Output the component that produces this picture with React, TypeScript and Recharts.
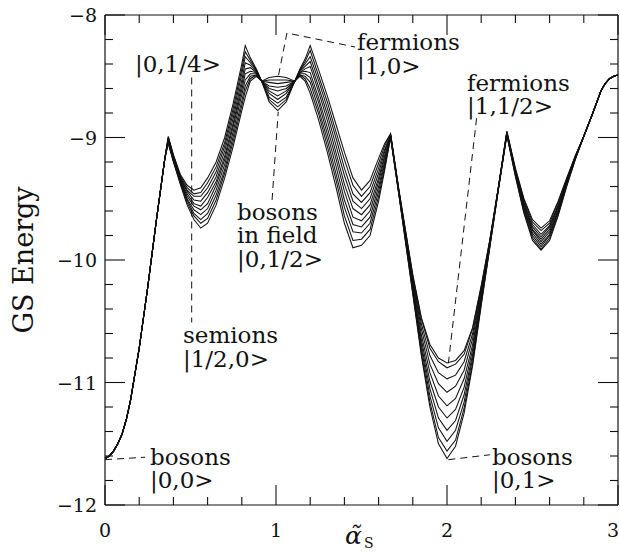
import React from 'react';
import { LineChart, Line, XAxis, YAxis, ReferenceDot } from 'recharts';

// alpha_S sampling grid
const alphaGrid = [0, 0.025, 0.05, 0.075, 0.1, 0.125, 0.15, 0.2, 0.25, 0.3, 0.35, 0.37, 0.4, 0.44, 0.48, 0.52, 0.56, 0.6, 0.65, 0.7, 0.75, 0.8, 0.82, 0.85, 0.885, 0.916, 0.96, 1.01, 1.06, 1.11, 1.14, 1.17, 1.2, 1.25, 1.3, 1.35, 1.4, 1.45, 1.5, 1.55, 1.6, 1.635, 1.67, 1.72, 1.8, 1.85, 1.9, 1.95, 2.0, 2.05, 2.1, 2.15, 2.2, 2.25, 2.3, 2.35, 2.4, 2.45, 2.5, 2.55, 2.6, 2.65, 2.7, 2.75, 2.8, 2.85, 2.9, 2.925, 2.95, 2.975, 3.0];

// part common to every curve (alpha 0 .. 0.35)
const sharedRise = [-11.62, -11.6, -11.56, -11.5, -11.42, -11.3, -11.14, -10.72, -10.22, -9.68, -9.17];
// part common to every curve (alpha 2.8 .. 3.0)
const sharedTail = [-8.99, -8.81, -8.62, -8.56, -8.52, -8.5, -8.49];

// individual curves (alpha 0.37 .. 2.75)
const curve0 = [-8.99, -9.14, -9.30, -9.39, -9.43, -9.41, -9.33, -9.20, -9.00, -8.72, -8.40, -8.25, -8.35, -8.44, -8.54, -8.51, -8.50, -8.51, -8.54, -8.44, -8.36, -8.25, -8.45, -8.66, -8.89, -9.12, -9.33, -9.43, -9.35, -9.17, -9.05, -8.97, -9.44, -10.12, -10.47, -10.69, -10.80, -10.84, -10.82, -10.74, -10.55, -10.21, -9.84, -9.41, -8.95, -9.25, -9.50, -9.67, -9.74, -9.68, -9.52, -9.33, -9.15];
const curve1 = [-9.00, -9.15, -9.31, -9.41, -9.46, -9.45, -9.37, -9.24, -9.04, -8.76, -8.44, -8.30, -8.37, -8.45, -8.54, -8.53, -8.53, -8.53, -8.54, -8.45, -8.38, -8.29, -8.50, -8.71, -8.95, -9.18, -9.39, -9.48, -9.40, -9.21, -9.07, -8.97, -9.44, -10.13, -10.48, -10.72, -10.83, -10.88, -10.85, -10.77, -10.56, -10.22, -9.84, -9.41, -8.95, -9.26, -9.51, -9.69, -9.76, -9.70, -9.53, -9.34, -9.15];
const curve2 = [-9.00, -9.15, -9.32, -9.43, -9.48, -9.48, -9.41, -9.28, -9.07, -8.80, -8.48, -8.34, -8.39, -8.45, -8.54, -8.55, -8.56, -8.55, -8.54, -8.45, -8.40, -8.34, -8.54, -8.76, -9.00, -9.25, -9.46, -9.53, -9.45, -9.25, -9.10, -8.98, -9.45, -10.15, -10.52, -10.78, -10.92, -10.97, -10.94, -10.83, -10.60, -10.24, -9.85, -9.41, -8.96, -9.27, -9.53, -9.71, -9.79, -9.72, -9.55, -9.35, -9.16];
const curve3 = [-9.01, -9.16, -9.33, -9.44, -9.51, -9.52, -9.45, -9.32, -9.11, -8.84, -8.53, -8.39, -8.41, -8.46, -8.54, -8.58, -8.59, -8.58, -8.54, -8.46, -8.42, -8.38, -8.59, -8.81, -9.06, -9.31, -9.52, -9.58, -9.50, -9.29, -9.12, -8.98, -9.45, -10.17, -10.56, -10.85, -11.01, -11.08, -11.03, -10.90, -10.64, -10.26, -9.86, -9.41, -8.96, -9.27, -9.54, -9.73, -9.81, -9.73, -9.56, -9.35, -9.16];
const curve4 = [-9.02, -9.17, -9.34, -9.46, -9.54, -9.56, -9.49, -9.36, -9.15, -8.88, -8.57, -8.44, -8.43, -8.47, -8.54, -8.60, -8.62, -8.60, -8.54, -8.47, -8.44, -8.42, -8.63, -8.86, -9.12, -9.38, -9.58, -9.63, -9.55, -9.33, -9.15, -8.98, -9.46, -10.19, -10.61, -10.92, -11.11, -11.19, -11.13, -10.97, -10.69, -10.28, -9.87, -9.42, -8.96, -9.28, -9.55, -9.75, -9.83, -9.75, -9.57, -9.36, -9.16];
const curve5 = [-9.02, -9.17, -9.34, -9.48, -9.56, -9.59, -9.54, -9.39, -9.18, -8.91, -8.61, -8.48, -8.46, -8.47, -8.54, -8.62, -8.66, -8.62, -8.54, -8.47, -8.46, -8.47, -8.68, -8.92, -9.17, -9.44, -9.65, -9.68, -9.60, -9.36, -9.17, -8.99, -9.46, -10.21, -10.65, -10.99, -11.20, -11.29, -11.22, -11.04, -10.73, -10.30, -9.87, -9.42, -8.97, -9.29, -9.57, -9.76, -9.85, -9.77, -9.59, -9.37, -9.17];
const curve6 = [-9.03, -9.18, -9.35, -9.50, -9.59, -9.63, -9.58, -9.43, -9.22, -8.95, -8.65, -8.53, -8.48, -8.48, -8.54, -8.64, -8.69, -8.64, -8.54, -8.48, -8.48, -8.51, -8.72, -8.97, -9.23, -9.51, -9.71, -9.73, -9.65, -9.40, -9.20, -8.99, -9.47, -10.23, -10.69, -11.05, -11.29, -11.39, -11.31, -11.10, -10.77, -10.32, -9.88, -9.42, -8.97, -9.30, -9.58, -9.78, -9.87, -9.79, -9.60, -9.38, -9.17];
const curve7 = [-9.04, -9.19, -9.36, -9.51, -9.62, -9.67, -9.62, -9.47, -9.26, -8.99, -8.70, -8.58, -8.50, -8.49, -8.54, -8.67, -8.72, -8.67, -8.54, -8.49, -8.50, -8.55, -8.77, -9.02, -9.29, -9.57, -9.77, -9.78, -9.70, -9.44, -9.22, -8.99, -9.47, -10.25, -10.72, -11.11, -11.37, -11.48, -11.39, -11.16, -10.80, -10.34, -9.89, -9.43, -8.97, -9.30, -9.59, -9.80, -9.89, -9.80, -9.61, -9.38, -9.17];
const curve8 = [-9.04, -9.19, -9.37, -9.53, -9.64, -9.70, -9.66, -9.51, -9.29, -9.03, -8.74, -8.62, -8.52, -8.49, -8.54, -8.69, -8.75, -8.69, -8.54, -8.49, -8.52, -8.60, -8.81, -9.07, -9.34, -9.64, -9.84, -9.83, -9.75, -9.48, -9.25, -9.00, -9.48, -10.27, -10.76, -11.16, -11.45, -11.56, -11.47, -11.21, -10.84, -10.36, -9.90, -9.43, -8.98, -9.31, -9.61, -9.82, -9.91, -9.82, -9.63, -9.39, -9.18];
const curve9 = [-9.05, -9.20, -9.38, -9.55, -9.67, -9.74, -9.70, -9.55, -9.33, -9.07, -8.78, -8.67, -8.54, -8.50, -8.54, -8.71, -8.78, -8.71, -8.54, -8.50, -8.54, -8.64, -8.86, -9.12, -9.40, -9.70, -9.90, -9.88, -9.80, -9.52, -9.27, -9.00, -9.48, -10.28, -10.78, -11.20, -11.50, -11.62, -11.52, -11.25, -10.86, -10.37, -9.90, -9.43, -8.98, -9.32, -9.62, -9.84, -9.92, -9.84, -9.64, -9.40, -9.18];

const curves = [curve0, curve1, curve2, curve3, curve4, curve5, curve6, curve7, curve8, curve9];

// tick values
const xTicks = [0, 0.2, 0.4, 0.6, 0.8, 1, 1.2, 1.4, 1.6, 1.8, 2, 2.2, 2.4, 2.6, 2.8, 3];
const yTicks = [-12, -11.8, -11.6, -11.4, -11.2, -11, -10.8, -10.6, -10.4, -10.2, -10, -9.8, -9.6, -9.4, -9.2, -9, -8.8, -8.6, -8.4, -8.2, -8];

// dashed pointer lines (alpha, energy)
const pointerQuarter = [{ alpha: 0.507, e: -8.51 }, { alpha: 0.507, e: -10.51 }];
const pointerField = [{ alpha: 0.977, e: -9.51 }, { alpha: 1.013, e: -8.79 }];
const pointerFermi10 = [{ alpha: 1.015, e: -8.49 }, { alpha: 1.064, e: -8.147 }, { alpha: 1.462, e: -8.261 }];
const pointerFermi1half = [{ alpha: 2.173, e: -8.843 }, { alpha: 2.008, e: -10.843 }];
const pointerBose01 = [{ alpha: 2.008, e: -11.63 }, { alpha: 2.251, e: -11.59 }];
const pointerBose00 = [{ alpha: 0.0, e: -11.63 }, { alpha: 0.234, e: -11.61 }];
const pointers = [pointerQuarter, pointerField, pointerFermi10, pointerFermi1half, pointerBose01, pointerBose00];

// annotation texts, anchored at (alpha, energy) of first baseline
const annotations = [
  { alpha: 0.175, e: -8.465, lines: ['|0,1/4>'] },
  { alpha: 1.474, e: -8.286, lines: ['fermions', '|1,0>'] },
  { alpha: 2.117, e: -8.618, lines: ['fermions', '|1,1/2>'] },
  { alpha: 0.772, e: -9.673, lines: ['bosons', 'in field', '|0,1/2>'] },
  { alpha: 0.456, e: -10.678, lines: ['semions', '|1/2,0>'] },
  { alpha: 2.263, e: -11.673, lines: ['bosons', '|0,1>'] },
  { alpha: 0.263, e: -11.673, lines: ['bosons', '|0,0>'] },
];

const rows = alphaGrid.map((alpha, i) => {
  const row: any = { alpha };
  curves.forEach((c, k) => {
    let v: number;
    if (i < sharedRise.length) v = sharedRise[i];
    else if (i - sharedRise.length < c.length) v = c[i - sharedRise.length];
    else v = sharedTail[i - sharedRise.length - c.length];
    row['c' + k] = v;
  });
  return row;
});

const FONT = '"DejaVu Serif", serif';
const INK = '#111';
const isMajor = (v: number) => Math.abs(v - Math.round(v)) < 1e-6;
const fmt = (v: number) => (v < 0 ? '\u2212' + Math.abs(Math.round(v)) : String(Math.round(v)));

const BottomTick = (p: any) => {
  const v = p.payload.value;
  const major = isMajor(v);
  const last = Math.abs(v - 3) < 1e-6;
  return (
    <g>
      <line x1={p.x} y1={p.y} x2={p.x} y2={p.y - (major ? 20 : 8)} stroke={INK} strokeWidth={1.1} />
      {major && (
        <text x={last ? p.x + 1 : p.x} y={p.y + 32} textAnchor={last ? 'end' : 'middle'} fontFamily={FONT} fontSize={19} fill={INK}>
          {fmt(v)}
        </text>
      )}
    </g>
  );
};
const TopTick = (p: any) => {
  const major = isMajor(p.payload.value);
  return <line x1={p.x} y1={p.y} x2={p.x} y2={p.y + (major ? 20 : 8)} stroke={INK} strokeWidth={1.1} />;
};
const LeftTick = (p: any) => {
  const v = p.payload.value;
  const major = isMajor(v);
  return (
    <g>
      <line x1={p.x} y1={p.y} x2={p.x + (major ? 20 : 8)} y2={p.y} stroke={INK} strokeWidth={1.1} />
      {major && (
        <text x={p.x - 8} y={p.y + 7} textAnchor="end" fontFamily={FONT} fontSize={19} fill={INK}>
          {fmt(v)}
        </text>
      )}
    </g>
  );
};
const RightTick = (p: any) => {
  const major = isMajor(p.payload.value);
  return <line x1={p.x} y1={p.y} x2={p.x - (major ? 20 : 8)} y2={p.y} stroke={INK} strokeWidth={1.1} />;
};

const YTitle = (p: any) => {
  const vb = p.viewBox;
  const cx = vb.x + 33;
  const cy = vb.y + vb.height / 2;
  return (
    <text x={cx} y={cy} transform={`rotate(-90, ${cx}, ${cy})`} textAnchor="middle" fontFamily={FONT} fontSize={27} fill={INK}>
      GS Energy
    </text>
  );
};
const XTitle = (p: any) => {
  const vb = p.viewBox;
  const x = vb.x + 240;
  const y = vb.y + 39;
  return (
    <text x={x} y={y} fontFamily={FONT} fontSize={25} fill={INK}>
      <tspan fontStyle="italic">{'\u03B1\u0303'}</tspan>
      <tspan fontSize={14} dy={4} dx={2}>S</tspan>
    </text>
  );
};

const makeAnno = (lines: string[]) => (p: any) => {
  const vb = p.viewBox;
  return (
    <text x={vb.x} y={vb.y} fontFamily={FONT} fontSize={23} fill={INK}>
      {lines.map((l, i) => (
        <tspan key={i} x={vb.x} dy={i === 0 ? 0 : 23.5}>
          {l}
        </tspan>
      ))}
    </text>
  );
};

const axisLine = { stroke: INK, strokeWidth: 1.2 };

export default function App() {
  return (
    <div style={{ position: 'absolute', left: 0, top: 0, background: '#fff' }}>
      <LineChart width={620} height={554} data={rows} margin={{ top: 0, right: 0, bottom: 0, left: 0 }}>
        <XAxis xAxisId="x" dataKey="alpha" type="number" domain={[0, 3]} allowDataOverflow ticks={xTicks} interval={0}
          height={49} tickSize={0} tickMargin={0} tickLine={false} axisLine={axisLine} tick={BottomTick}
          label={{ content: XTitle }} />
        <XAxis xAxisId="top" orientation="top" dataKey="alpha" type="number" domain={[0, 3]} allowDataOverflow ticks={xTicks} interval={0}
          height={15} tickSize={0} tickMargin={0} tickLine={false} axisLine={axisLine} tick={TopTick} />
        <YAxis yAxisId="y" type="number" domain={[-12, -8]} allowDataOverflow ticks={yTicks} interval={0}
          width={105} tickSize={0} tickMargin={0} tickLine={false} axisLine={axisLine} tick={LeftTick}
          label={{ content: YTitle }} />
        <YAxis yAxisId="right" orientation="right" type="number" domain={[-12, -8]} allowDataOverflow ticks={yTicks} interval={0}
          width={2} tickSize={0} tickMargin={0} tickLine={false} axisLine={axisLine} tick={RightTick} />

        <Line xAxisId="top" yAxisId="right" dataKey="c0" stroke="none" dot={false} activeDot={false} isAnimationActive={false} legendType="none" />

        {curves.map((_, k) => (
          <Line key={k} xAxisId="x" yAxisId="y" type="linear" dataKey={'c' + k} stroke={INK} strokeWidth={1.05}
            dot={false} activeDot={false} isAnimationActive={false} />
        ))}

        {pointers.map((d, i) => (
          <Line key={'p' + i} xAxisId="x" yAxisId="y" data={d} dataKey="e" type="linear" stroke={INK} strokeWidth={1}
            strokeDasharray="7 5" dot={false} activeDot={false} isAnimationActive={false} />
        ))}

        {annotations.map((a, i) => (
          <ReferenceDot key={'a' + i} xAxisId="x" yAxisId="y" x={a.alpha} y={a.e} r={0} fill="none" stroke="none"
            label={makeAnno(a.lines)} />
        ))}
      </LineChart>
    </div>
  );
}
